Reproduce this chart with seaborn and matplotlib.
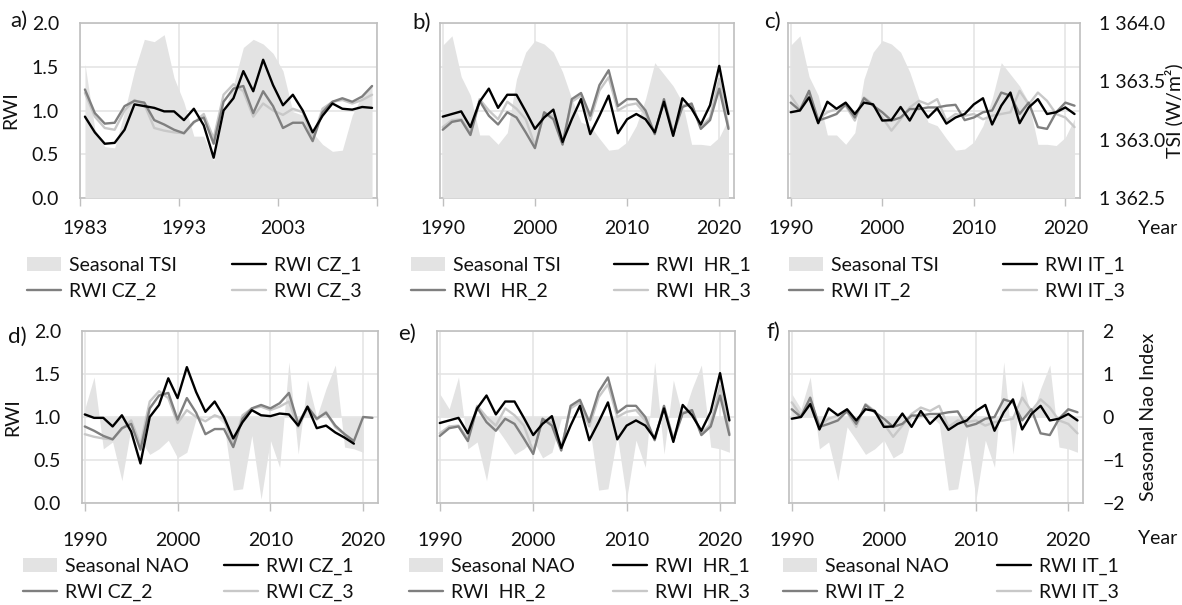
import numpy as np
import pandas as pd
import matplotlib
matplotlib.use("Agg")
import matplotlib.pyplot as plt
import seaborn as sns
from matplotlib.patches import Patch
from matplotlib.lines import Line2D
from matplotlib.ticker import FixedLocator, FixedFormatter, NullFormatter, NullLocator

# ---------------- data ----------------
years_cz = list(range(1983, 2022))
rwi_cz_1 = [0.93, 0.75, 0.62, 0.63, 0.78, 1.07, 1.05, 1.03, 0.99, 0.99, 0.89, 1.02, 0.83, 0.46, 1.00,
            1.14, 1.45, 1.22, 1.58, 1.29, 1.06, 1.18, 1.00, 0.75, 0.94, 1.08, 1.02, 1.01, 1.04, 1.03,
            0.90, 1.12, 0.87, 0.90, 0.82, 0.76, 0.69, np.nan, np.nan]
rwi_cz_2 = [1.24, 0.97, 0.85, 0.86, 1.05, 1.11, 1.09, 0.89, 0.84, 0.78, 0.74, 0.87, 0.92, 0.62, 1.10,
            1.25, 1.28, 0.97, 1.22, 1.05, 0.80, 0.86, 0.86, 0.65, 0.98, 1.10, 1.14, 1.10, 1.16, 1.28,
            0.92, 1.12, 0.98, 1.05, 0.90, 0.80, 0.72, 1.00, 0.99]
rwi_cz_3 = [1.20, 0.93, 0.80, 0.78, 1.00, 1.12, 1.07, 0.80, 0.77, 0.75, 0.74, 0.86, 0.96, 0.68, 1.18,
            1.30, 1.22, 0.93, 1.08, 1.00, 0.95, 1.02, 0.98, 0.68, 1.02, 1.10, 1.12, 1.08, 1.12, 1.18,
            0.88, 1.10, 0.97, 1.06, 0.88, 0.80, 0.72, np.nan, np.nan]

years_90 = list(range(1990, 2022))
rwi_hr_1 = [0.93, 0.96, 0.99, 0.81, 1.10, 1.25, 1.03, 1.18, 1.18, 0.99, 0.79, 0.92, 1.01, 0.64, 0.90, 1.13,
            0.73, 0.94, 1.17, 0.74, 0.90, 0.96, 0.90, 0.75, 1.10, 0.71, 1.14, 1.02, 0.84, 1.06, 1.51, 0.96]
rwi_hr_2 = [0.78, 0.87, 0.89, 0.72, 1.11, 0.94, 0.84, 0.98, 0.92, 0.75, 0.57, 0.98, 0.90, 0.61, 1.13, 1.20,
            0.94, 1.29, 1.46, 1.05, 1.13, 1.13, 1.00, 0.73, 1.13, 0.73, 1.04, 1.08, 0.79, 0.89, 1.25, 0.79]
rwi_hr_3 = [0.81, 0.89, 0.90, 0.75, 1.13, 1.00, 0.90, 1.10, 1.02, 0.90, 0.60, 0.96, 0.94, 0.64, 1.10, 1.17,
            0.89, 1.23, 1.38, 1.00, 1.06, 1.08, 0.96, 0.75, 1.11, 0.75, 1.06, 1.06, 0.81, 0.92, 1.36, 0.81]

rwi_it_1 = [0.98, 1.00, 1.15, 0.855, 1.10, 1.02, 1.09, 0.96, 1.09, 1.07, 0.885, 0.89, 1.04, 0.885, 1.07, 0.92,
            1.025, 0.85, 0.92, 0.96, 1.07, 1.14, 0.84, 1.055, 1.205, 0.855, 1.035, 1.13, 0.96, 0.98, 1.035, 0.96]
rwi_it_2 = [1.09, 1.00, 1.225, 0.885, 0.92, 0.96, 1.07, 0.92, 1.14, 1.055, 0.98, 0.885, 0.92, 1.017, 1.017, 1.035,
            1.035, 1.055, 1.065, 0.89, 0.92, 0.98, 1.00, 1.205, 1.17, 0.96, 1.09, 0.81, 0.79, 0.98, 1.09, 1.055]
rwi_it_3 = [1.17, 1.017, 1.205, 0.90, 0.98, 1.017, 1.055, 0.885, 1.15, 1.07, 0.92, 0.77, 0.90, 1.035, 1.11, 1.07,
            1.13, 0.885, 0.96, 0.94, 0.96, 0.90, 0.94, 0.96, 0.98, 1.225, 1.07, 1.205, 1.11, 0.96, 0.92, 0.81]

years_tsi_a = list(range(1983, 2013))
tsi_a = [1363.65, 1363.09, 1362.94, 1362.93, 1363.24, 1363.59, 1363.86, 1363.84, 1363.90, 1363.53,
         1363.32, 1363.03, 1363.03, 1362.82, 1363.24, 1363.47, 1363.79, 1363.86, 1363.82, 1363.74,
         1363.59, 1363.24, 1363.21, 1363.06, 1362.96, 1362.90, 1362.91, 1363.21, 1363.38, 1363.47]
tsi_bc = [1363.81, 1363.89, 1363.54, 1363.38, 1363.04, 1363.04, 1362.96, 1363.06, 1363.52, 1363.75,
          1363.85, 1363.82, 1363.75, 1363.58, 1363.35, 1363.15, 1363.12, 1363.01, 1362.91, 1362.92,
          1362.98, 1363.12, 1363.35, 1363.66, 1363.56, 1363.46, 1363.32, 1362.96, 1362.96, 1362.95,
          1363.02, 1363.18]

nao = [0.54, 0.19, 0.93, -0.74, -0.58, -1.48, -0.23, -0.54, -0.87, -0.74, -0.54, -0.95, -0.82, -0.04,
       -0.02, 0.04, -0.16, -1.70, -1.67, -0.43, -1.91, -0.54, -1.17, 1.28, -0.86, 0.86, 0.00, 0.66,
       1.21, -0.70, -0.74, -0.82]
years_nao_cz = list(range(1990, 2021))
nao_cz = [0.19, 0.93, -0.74, -0.58, -1.48, -0.23, -0.54, -0.87, -0.74, -0.54, -0.95, -0.82, -0.04,
          -0.02, 0.04, -0.16, -1.70, -1.67, -0.43, -1.91, -0.54, -1.17, 1.28, -0.86, 0.86, 0.00, 0.66,
          1.21, -0.70, -0.74, -0.82]

rwi_ticks = [0.0, 0.5, 1.0, 1.5, 2.0]
rwi_tick_labels = ["0.0", "0.5", "1.0", "1.5", "2.0"]
tsi_ticks = [1362.5, 1363.0, 1363.5, 1364.0]
tsi_tick_labels = ["1 362.5", "1 363.0", "1 363.5", "1 364.0"]
nao_ticks = [-2, -1, 0, 1, 2]
nao_tick_labels = ["\u22122", "\u22121", "0", "1", "2"]
xlabels_a = ["1983", "1993", "2003"]
xlabels_90 = ["1990", "2000", "2010", "2020"]

# ---------------- style ----------------
sns.set_theme(style="white")
plt.rcParams['font.family'] = ['Lato', 'DejaVu Sans']
FS = 14
TXT = "#111111"
FRAME = "#bfbfbf"
GRID = "#e3e3e3"
AREA = "#e3e3e3"
C1, C2, C3 = "#000000", "#7f7f7f", "#c8c8c8"
LW = 1.7

W, H = 1182, 605
fig = plt.figure(figsize=(W / 100, H / 100), dpi=100)


def rect(l, r, t, b):
    return [l / W, 1 - b / H, (r - l) / W, (b - t) / H]


def panel(box, xlim, line_years, s1, s2, s3, names, area_years, area_vals, kind,
          left_labels, right_labels, panel_a=False, xpad=8):
    axg = fig.add_axes(box)
    axa = fig.add_axes(box)
    axl = fig.add_axes(box)
    for ax in (axg, axa, axl):
        ax.set_xlim(*xlim)
    # background / grid
    axg.set_ylim(0, 2)
    axg.yaxis.set_major_locator(FixedLocator(rwi_ticks))
    if left_labels:
        axg.yaxis.set_major_formatter(FixedFormatter(rwi_tick_labels))
        axg.set_ylabel("RWI", fontsize=FS, color=TXT)
        axg.yaxis.set_label_coords(-0.205, 0.5)
    else:
        axg.yaxis.set_major_formatter(NullFormatter())
    axg.tick_params(axis="y", length=0, pad=15, labelsize=FS, labelcolor=TXT)
    if panel_a:
        axg.xaxis.set_major_locator(FixedLocator([1983, 1993, 2003]))
        axg.xaxis.set_major_formatter(FixedFormatter(xlabels_a))
        axg.xaxis.set_minor_locator(FixedLocator([1982.5, 1992.5, 2002.5, 2012.5]))
        axg.tick_params(axis="x", which="major", length=0, pad=xpad + 6, labelsize=FS, labelcolor=TXT)
        axg.tick_params(axis="x", which="minor", length=6, width=1, color=FRAME, direction="out", bottom=True)
        axg.grid(True, axis="x", which="minor", color=GRID, lw=1.1)
    else:
        axg.xaxis.set_major_locator(FixedLocator([1990, 2000, 2010, 2020]))
        axg.xaxis.set_major_formatter(FixedFormatter(xlabels_90))
        axg.tick_params(axis="x", which="major", length=6, width=1, color=FRAME, direction="out",
                        bottom=True, pad=xpad, labelsize=FS, labelcolor=TXT)
        axg.grid(True, axis="x", which="major", color=GRID, lw=1.1)
    axg.grid(True, axis="y", which="major", color=GRID, lw=1.1)
    for sp in axg.spines.values():
        sp.set_color(FRAME)
        sp.set_linewidth(1.2)

    # area layer
    axa.patch.set_visible(False)
    for sp in axa.spines.values():
        sp.set_visible(False)
    axa.xaxis.set_major_locator(NullLocator())
    axa.xaxis.set_minor_locator(NullLocator())
    if kind == "tsi":
        axa.set_ylim(1362.5, 1364.0)
        axa.fill_between(area_years, 1362.5, area_vals, color=AREA, lw=0)
        ticks, tlabels, ylab, lx = tsi_ticks, tsi_tick_labels, "TSI (W/m\u00b2)", 1.290
    else:
        axa.set_ylim(-2, 2)
        axa.fill_between(area_years, 0, area_vals, color=AREA, lw=0)
        ticks, tlabels, ylab, lx = nao_ticks, nao_tick_labels, "Seasonal Nao Index", 1.194
    axa.yaxis.tick_right()
    axa.yaxis.set_major_locator(FixedLocator(ticks))
    if right_labels:
        axa.yaxis.set_major_formatter(FixedFormatter(tlabels))
        axa.yaxis.set_label_position("right")
        axa.set_ylabel(ylab, fontsize=FS, color=TXT)
        axa.yaxis.set_label_coords(lx, 0.5)
    else:
        axa.yaxis.set_major_formatter(NullFormatter())
    axa.tick_params(axis="y", length=0, pad=14, labelsize=FS, labelcolor=TXT)

    # line layer
    axl.patch.set_visible(False)
    for sp in axl.spines.values():
        sp.set_visible(False)
    axl.set_ylim(0, 2)
    df = pd.DataFrame({
        "year": list(line_years) * 3,
        "rwi": list(s3) + list(s2) + list(s1),
        "series": [names[2]] * len(s3) + [names[1]] * len(s2) + [names[0]] * len(s1),
    })
    df = df[(df["year"] >= xlim[0]) & (df["year"] <= xlim[1])]
    sns.lineplot(data=df, x="year", y="rwi", hue="series", hue_order=[names[2], names[1], names[0]],
                 palette={names[0]: C1, names[1]: C2, names[2]: C3}, linewidth=LW,
                 legend=False, ax=axl, sort=True)
    axl.set_xlim(*xlim)
    axl.set_xticks([])
    axl.set_yticks([])
    axl.set_xlabel("")
    axl.set_ylabel("")
    return axg


def legend_pair(col1_x, col2_x, top_y, area_label, names):
    h_area = Patch(facecolor=AREA, edgecolor="none")
    h1 = Line2D([0], [0], color=C1, lw=LW)
    h2 = Line2D([0], [0], color=C2, lw=LW)
    h3 = Line2D([0], [0], color=C3, lw=LW)
    kw = dict(loc="upper left", frameon=False, fontsize=FS, handlelength=1.75, handletextpad=0.4,
              borderpad=0, borderaxespad=0, labelspacing=0.45, bbox_transform=fig.transFigure)
    for tc in fig.legend(handles=[h_area, h2], labels=[area_label, names[1]],
                         bbox_to_anchor=(col1_x / W, 1 - top_y / H), **kw).get_texts():
        tc.set_color(TXT)
    for tc in fig.legend(handles=[h1, h3], labels=[names[0], names[2]],
                         bbox_to_anchor=(col2_x / W, 1 - top_y / H), **kw).get_texts():
        tc.set_color(TXT)


names_cz = ["RWI CZ_1", "RWI CZ_2", "RWI CZ_3"]
names_hr = ["RWI  HR_1", "RWI  HR_2", "RWI  HR_3"]
names_it = ["RWI IT_1", "RWI IT_2", "RWI IT_3"]

TOP = (23, 198)
BOT = (331, 503)
xl90 = (1989.7, 2021.6)

panel(rect(80, 377, *TOP), (1982.5, 2012.5), years_cz, rwi_cz_1, rwi_cz_2, rwi_cz_3, names_cz,
      years_tsi_a, tsi_a, "tsi", True, False, panel_a=True, xpad=10)
panel(rect(440, 734, *TOP), xl90, years_90, rwi_hr_1, rwi_hr_2, rwi_hr_3, names_hr,
      years_90, tsi_bc, "tsi", False, False, xpad=10)
panel(rect(788, 1080, *TOP), xl90, years_90, rwi_it_1, rwi_it_2, rwi_it_3, names_it,
      years_90, tsi_bc, "tsi", False, True, xpad=10)
panel(rect(82, 378, *BOT), xl90, years_cz, rwi_cz_1, rwi_cz_2, rwi_cz_3, names_cz,
      years_nao_cz, nao_cz, "nao", True, False, xpad=15)
panel(rect(437, 735, *BOT), xl90, years_90, rwi_hr_1, rwi_hr_2, rwi_hr_3, names_hr,
      years_90, nao, "nao", False, False, xpad=15)
panel(rect(789, 1083, *BOT), xl90, years_90, rwi_it_1, rwi_it_2, rwi_it_3, names_it,
      years_90, nao, "nao", False, True, xpad=15)

legend_pair(27, 232, 257, "Seasonal TSI", names_cz)
legend_pair(411, 614, 257, "Seasonal TSI", names_hr)
legend_pair(789, 1003, 257, "Seasonal TSI", names_it)
legend_pair(23, 224, 558, "Seasonal NAO", names_cz)
legend_pair(409, 613, 558, "Seasonal NAO", names_hr)
legend_pair(783, 997, 558, "Seasonal NAO", names_it)

for lab, x, y in [("a)", 19, 21), ("b)", 422, 23), ("c)", 772, 22),
                  ("d)", 17, 337), ("e)", 407, 334), ("f)", 773, 332)]:
    fig.text(x / W, 1 - y / H, lab, fontsize=16, color=TXT, ha="center", va="center")
for y in (229, 539):
    fig.text(1158 / W, 1 - y / H, "Year", fontsize=FS, color=TXT, ha="center", va="center")

fig.savefig("out.png", dpi=100)
